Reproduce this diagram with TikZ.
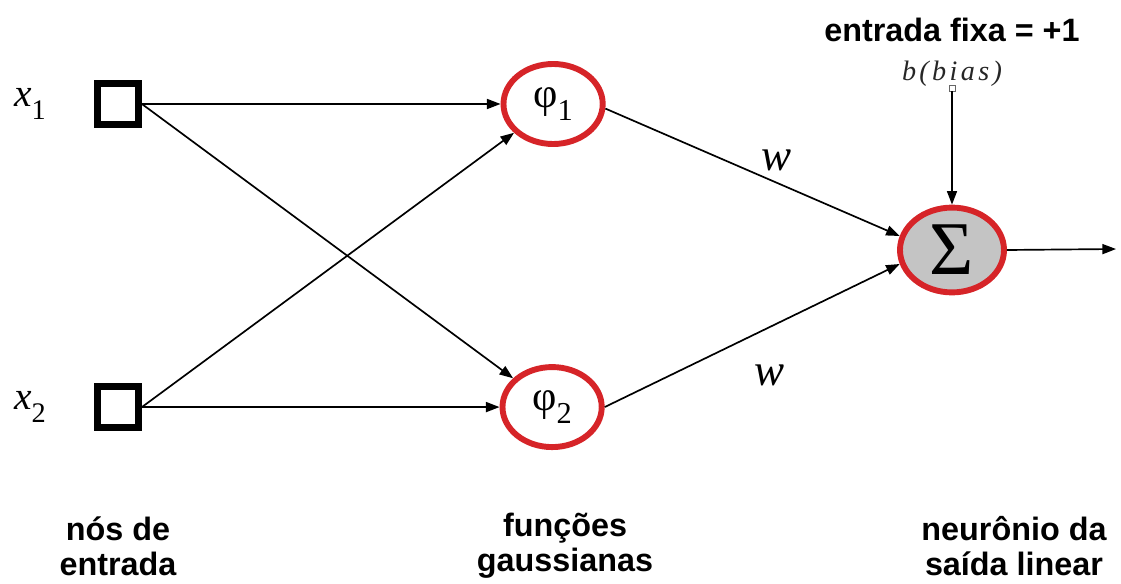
\documentclass[tikz,border=0pt]{standalone}
\usepackage{fontspec}
\usepackage{graphicx}
\setmainfont{Liberation Serif}
\newfontfamily\lblfont{Liberation Sans}
\newfontfamily\biasfont[LetterSpace=12]{Liberation Serif}
\usepackage{tikz}
\usetikzlibrary{positioning}
\usetikzlibrary{shapes.geometric, arrows.meta}

\definecolor{rbfred}{RGB}{214,36,40}
\definecolor{somagray}{RGB}{196,196,196}
\newcommand\lowidx[1]{\raisebox{-0.32em}{\scalebox{0.72}{#1}}}

\begin{document}
\begin{tikzpicture}[x=0.025cm, y=-0.025cm, on grid]
    \tikzset{
    inpt/.style=
    {
        rectangle,
        draw,
        line width = 5pt,
        minimum size = 1.02cm
    },
    gauss/.style=
    {
        ellipse,
        draw = rbfred,
        line width = 4.2pt,
        minimum width = 2.48cm,
        minimum height = 2.0cm,
        inner sep = 0pt,
        font = \fontsize{30}{30}\selectfont
    },
    soma/.style=
    {
        ellipse,
        draw = rbfred,
        fill = somagray,
        line width = 4.2pt,
        minimum width = 2.6cm,
        minimum height = 2.12cm,
        inner sep = 0pt,
        font = \fontsize{54}{54}\selectfont
    },
    biasbox/.style=
    {
        rectangle,
        draw = black!60,
        line width = 0.5pt,
        minimum size = 0.15cm,
        inner sep = 0pt
    },
    varlbl/.style=
    {
        font = \fontsize{28}{28}\selectfont
    },
    peso/.style=
    {
        font = \fontsize{32}{32}\selectfont\itshape
    },
    caption/.style=
    {
        align = center,
        font = \lblfont\bfseries\fontsize{23}{25}\selectfont
    },
    link/.style=
    {
        line width = 1.2pt,
        -{Triangle[length=3.4mm, width=2.5mm]}
    }
}

  \useasboundingbox (0,0) rectangle (1121,584);

  % entradas
  \node[inpt] (X1) at (118,104) {};
  \node[inpt, below = 7.575cm of X1] (X2) {};
  \node[varlbl, left = 2.2cm of X1] (x1) {\textit{x}\lowidx{1}};
  \node[varlbl, left = 2.2cm of X2] (x2) {\textit{x}\lowidx{2}};

  % camada escondida
  \node[gauss, right = 10.875cm of X1] (phi1) {φ\lowidx{1}};
  \node[gauss, right = 10.85cm of X2] (phi2) {φ\lowidx{2}};

  % saida
  \node[soma] (Sigma) at (952,250) {Σ};
  \node[biasbox, above = 4.05cm of Sigma] (bias) {};
  \node[above = 0.36cm of bias, text = black!85] (biaslbl)
       {\biasfont\itshape\fontsize{20}{20}\selectfont b(bias)};
  \node[caption, above = 1.1cm of biaslbl] (fixa) {entrada fixa = +1};
  \coordinate (out) at (1116,249);

  % rotulos
  \node[caption] (lblin) at (118,546) {nós de\\entrada};
  \node[caption] (lblgauss) at (565,546) {funções\\gaussianas};
  \node[caption] (lblout) at (1014,546) {neurônio da\\saída linear};

  \draw[link] (X1.east) -- (phi1);
  \draw[link] (X1.east) -- (phi2);
  \draw[link] (X2.east) -- (phi1);
  \draw[link] (X2.east) -- (phi2);
  \draw[link] (phi1.-5) -- node[peso, pos=0.58, above=0.15cm] (w1) {w} (Sigma.165);
  \draw[link] (phi2.east) -- node[peso, pos=0.56, below=0.8cm] (w2) {w} (Sigma.195);
  \draw[link] (bias.south) -- (Sigma.north);
  \draw[link] (Sigma.east) -- (out);

\end{tikzpicture}
\end{document}
